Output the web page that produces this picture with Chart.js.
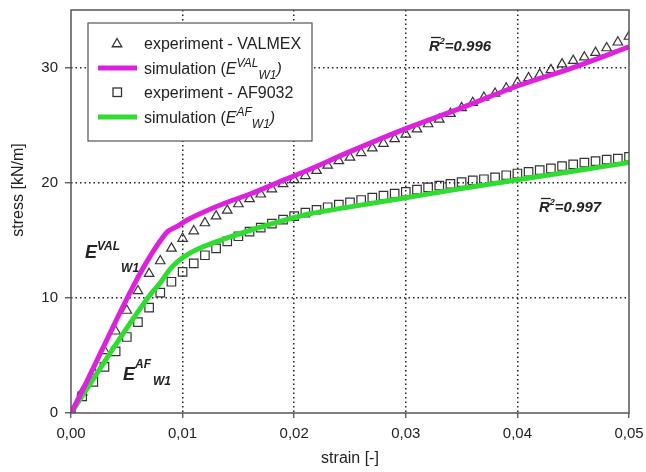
<!DOCTYPE html>
<html>
<head>
<meta charset="utf-8">
<script src="https://cdn.jsdelivr.net/npm/chart.js@4.4.1/dist/chart.umd.min.js"></script>
<style>
  html, body { margin: 0; padding: 0; background: #fff; }
  #wrap { width: 646px; height: 472px; }
</style>
</head>
<body>
<div id="wrap"><canvas id="stressChart" width="646" height="472"></canvas></div>
<script>
// measured points (every 0.001 strain)
const strain = [
  0.000, 0.001, 0.002, 0.003, 0.004, 0.005, 0.006, 0.007, 0.008, 0.009,
  0.010, 0.011, 0.012, 0.013, 0.014, 0.015, 0.016, 0.017, 0.018, 0.019,
  0.020, 0.021, 0.022, 0.023, 0.024, 0.025, 0.026, 0.027, 0.028, 0.029,
  0.030, 0.031, 0.032, 0.033, 0.034, 0.035, 0.036, 0.037, 0.038, 0.039,
  0.040, 0.041, 0.042, 0.043, 0.044, 0.045, 0.046, 0.047, 0.048, 0.049,
  0.050
];
const valmexStress = [
  0.0, 1.8, 3.6, 5.4, 7.1, 8.9, 10.6, 12.1, 13.2, 14.3,
  15.15, 15.8, 16.5, 17.1, 17.6, 18.15, 18.6, 19.0, 19.45, 19.9,
  20.25, 20.6, 21.05, 21.5, 21.9, 22.2, 22.6, 23.0, 23.4, 23.8,
  24.2, 24.65, 25.1, 25.5, 26.0, 26.5, 26.95, 27.4, 27.75, 28.2,
  28.7, 29.1, 29.4, 29.8, 30.3, 30.6, 30.9, 31.3, 31.7, 32.2,
  32.7
];
const af9032Stress = [
  0.0, 1.45, 2.7, 4.0, 5.35, 6.6, 7.9, 9.15, 10.45, 11.4,
  12.25, 13.0, 13.7, 14.3, 14.9, 15.35, 15.75, 16.1, 16.45, 16.8,
  17.1, 17.4, 17.65, 17.87, 18.1, 18.3, 18.5, 18.7, 18.88, 19.05,
  19.2, 19.4, 19.6, 19.75, 19.9, 20.05, 20.2, 20.3, 20.47, 20.65,
  20.8, 20.95, 21.1, 21.25, 21.45, 21.6, 21.75, 21.87, 22.0, 22.1,
  22.25
];

// simulation curves
const simValStrain = [0, 0.0085, 0.0095, 0.0105, 0.012, 0.014, 0.016, 0.019, 0.021, 0.025, 0.030, 0.035, 0.040, 0.045, 0.050];
const simValStress = [0, 15.6, 16.2, 16.8, 17.5, 18.3, 19.0, 20.2, 21.0, 22.7, 24.7, 26.5, 28.4, 30.0, 31.8];
const simAfStrain = [0, 0.0072, 0.008, 0.0088, 0.0095, 0.0105, 0.012, 0.014, 0.016, 0.019, 0.0214, 0.025, 0.030, 0.035, 0.040, 0.045, 0.050];
const simAfStress = [0, 10.4, 11.3, 12.4, 13.1, 13.8, 14.5, 15.2, 15.85, 16.7, 17.3, 17.9, 18.7, 19.5, 20.25, 21.0, 21.75];

const xTicks = [0, 0.01, 0.02, 0.03, 0.04, 0.05];
const xTickLabels = ['0,00', '0,01', '0,02', '0,03', '0,04', '0,05'];
const yTicks = [0, 10, 20, 30];
const yTickLabels = ['0', '10', '20', '30'];

const FONT = '"Liberation Sans", Arial, sans-serif';
const MAGENTA = '#dc22dc';
const GREEN = '#2fdc2f';
const MARK = '#333';

const toXY = (xs, ys) => xs.map((x, i) => ({ x: x, y: ys[i] }));

// little helper for text with super/subscripts
function drawRich(ctx, x, y, parts) {
  parts.forEach(p => {
    ctx.font = p.font;
    ctx.fillText(p.text, x, y + (p.dy || 0));
    x += ctx.measureText(p.text).width + (p.gap || 0);
  });
  return x;
}

function triangle(ctx, x, y, r) {
  ctx.beginPath();
  for (let k = 0; k < 3; k++) {
    const a = k * 2 * Math.PI / 3;
    const px = x + Math.sin(a) * r, py = y - Math.cos(a) * r;
    k === 0 ? ctx.moveTo(px, py) : ctx.lineTo(px, py);
  }
  ctx.closePath();
  ctx.stroke();
}

const decorations = {
  id: 'decorations',
  afterDraw(chart) {
    const ctx = chart.ctx;
    const area = chart.chartArea;
    ctx.save();

    // frame
    ctx.strokeStyle = '#555';
    ctx.lineWidth = 1.5;
    ctx.strokeRect(area.left, area.top, area.right - area.left, area.bottom - area.top);

    // axis titles
    ctx.fillStyle = '#222';
    ctx.font = '16px ' + FONT;
    ctx.textAlign = 'center';
    ctx.textBaseline = 'middle';
    ctx.fillText('strain [-]', (area.left + area.right) / 2, 459);
    ctx.save();
    ctx.translate(19, 190);
    ctx.rotate(-Math.PI / 2);
    ctx.fillText('stress [kN/m]', 0, 0);
    ctx.restore();

    // legend
    ctx.fillStyle = '#fff';
    ctx.fillRect(88, 23, 224, 118);
    ctx.strokeStyle = '#555';
    ctx.lineWidth = 1.2;
    ctx.strokeRect(88, 23, 224, 118);

    const rows = [43, 68, 92, 117];
    ctx.strokeStyle = MARK;
    ctx.lineWidth = 1.3;
    triangle(ctx, 117, rows[0] + 1, 5.5);
    ctx.strokeRect(113, rows[2] - 4, 8.5, 8.5);
    ctx.lineWidth = 5;
    ctx.strokeStyle = MAGENTA;
    ctx.beginPath(); ctx.moveTo(98, rows[1]); ctx.lineTo(137, rows[1]); ctx.stroke();
    ctx.strokeStyle = GREEN;
    ctx.beginPath(); ctx.moveTo(98, rows[3]); ctx.lineTo(137, rows[3]); ctx.stroke();

    ctx.fillStyle = '#222';
    ctx.textAlign = 'left';
    ctx.textBaseline = 'alphabetic';
    const norm = '16px ' + FONT, ital = 'italic 16px ' + FONT, small = 'italic 12px ' + FONT;
    drawRich(ctx, 144, rows[0] + 6, [{ text: 'experiment - VALMEX', font: norm }]);
    drawRich(ctx, 144, rows[2] + 6, [{ text: 'experiment - AF9032', font: norm }]);
    drawRich(ctx, 144, rows[1] + 6, [
      { text: 'simulation (', font: norm },
      { text: 'E', font: ital },
      { text: 'VAL', font: small, dy: -7 },
      { text: 'W1', font: small, dy: 5 },
      { text: ')', font: ital }
    ]);
    drawRich(ctx, 144, rows[3] + 6, [
      { text: 'simulation (', font: norm },
      { text: 'E', font: ital },
      { text: 'AF', font: small, dy: -7 },
      { text: 'W1', font: small, dy: 5 },
      { text: ')', font: ital }
    ]);

    // curve annotations
    const big = 'bold italic 18px ' + FONT, sub = 'bold italic 12px ' + FONT;
    drawRich(ctx, 85, 258, [
      { text: 'E', font: big },
      { text: 'VAL', font: sub, dy: -8, gap: 1 },
      { text: 'W1', font: sub, dy: 14 }
    ]);
    drawRich(ctx, 123, 380, [
      { text: 'E', font: big },
      { text: 'AF', font: sub, dy: -12, gap: 2 },
      { text: 'W1', font: sub, dy: 5 }
    ]);

    // R^2 labels with bar over R
    const rFont = 'bold italic 15px ' + FONT;
    [[429, 51, '=0.996'], [539, 212, '=0.997']].forEach(([x, y, val]) => {
      ctx.font = rFont;
      const w = ctx.measureText('R').width;
      ctx.strokeStyle = '#222';
      ctx.lineWidth = 1.3;
      ctx.beginPath(); ctx.moveTo(x + 2, y - 13.5); ctx.lineTo(x + w + 1, y - 13.5); ctx.stroke();
      drawRich(ctx, x, y, [
        { text: 'R', font: rFont },
        { text: '2', font: 'bold italic 9px ' + FONT, dy: -7 },
        { text: val, font: rFont }
      ]);
    });

    ctx.restore();
  }
};

const gridColor = (edgeValues) => (c) => {
  if (c.tick && edgeValues.includes(c.tick.value)) return 'rgba(0,0,0,0)';
  return '#222';
};

const ctx = document.getElementById('stressChart').getContext('2d');
new Chart(ctx, {
  type: 'scatter',
  data: {
    datasets: [
      {
        label: 'experiment - VALMEX',
        data: toXY(strain, valmexStress),
        pointStyle: 'triangle',
        pointRadius: 5.5,
        pointBackgroundColor: 'rgba(0,0,0,0)',
        pointBorderColor: MARK,
        pointBorderWidth: 1.2,
        order: 2
      },
      {
        label: 'simulation VAL',
        data: toXY(simValStrain, simValStress),
        showLine: true,
        borderColor: MAGENTA,
        borderWidth: 5,
        pointRadius: 0,
        cubicInterpolationMode: 'monotone',
        order: 1
      },
      {
        label: 'experiment - AF9032',
        data: toXY(strain, af9032Stress),
        pointStyle: 'rect',
        pointRadius: 6,
        pointBackgroundColor: 'rgba(0,0,0,0)',
        pointBorderColor: MARK,
        pointBorderWidth: 1.2,
        order: 2
      },
      {
        label: 'simulation AF',
        data: toXY(simAfStrain, simAfStress),
        showLine: true,
        borderColor: GREEN,
        borderWidth: 5,
        pointRadius: 0,
        cubicInterpolationMode: 'monotone',
        order: 1
      }
    ]
  },
  options: {
    responsive: false,
    devicePixelRatio: 1,
    animation: false,
    layout: { padding: { top: 10, right: 17, left: 0, bottom: 0 } },
    plugins: { legend: { display: false }, tooltip: { enabled: false } },
    scales: {
      x: {
        type: 'linear',
        min: 0,
        max: 0.05,
        afterBuildTicks: (s) => { s.ticks = xTicks.map(v => ({ value: v })); },
        afterFit: (s) => { s.height = 59; s.paddingLeft = 0; s.paddingRight = 0; },
        ticks: {
          callback: (v, i) => xTickLabels[i],
          color: '#222',
          font: { family: FONT, size: 15 },
          padding: 7,
          maxRotation: 0
        },
        grid: {
          color: gridColor([0, 0.05]),
          lineWidth: 1.5,
          tickColor: '#444',
          tickLength: 5,
          tickWidth: 1.2
        },
        border: { display: false, dash: [1.5, 3] }
      },
      y: {
        type: 'linear',
        min: 0,
        max: 35,
        afterBuildTicks: (s) => { s.ticks = yTicks.map(v => ({ value: v })); },
        afterFit: (s) => { s.width = 71; s.paddingTop = 0; s.paddingBottom = 0; },
        ticks: {
          callback: (v, i) => yTickLabels[i],
          color: '#222',
          font: { family: FONT, size: 15 },
          padding: 7
        },
        grid: {
          color: gridColor([0]),
          lineWidth: 1.5,
          tickColor: '#444',
          tickLength: 6,
          tickWidth: 1.2
        },
        border: { display: false, dash: [1.5, 3] }
      }
    }
  },
  plugins: [decorations]
});
</script>
</body>
</html>
